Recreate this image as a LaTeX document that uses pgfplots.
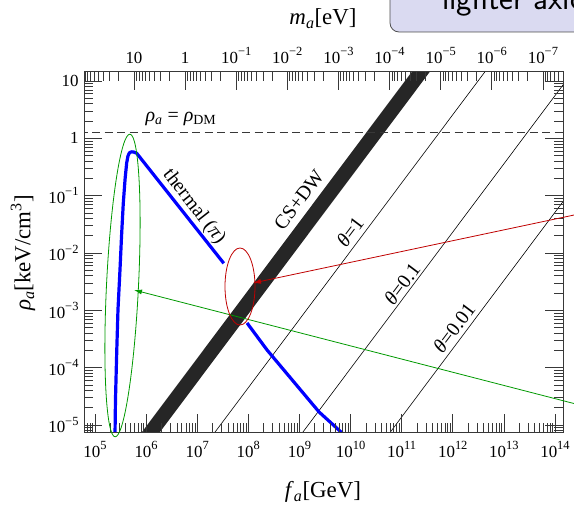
\documentclass[border=0pt]{standalone}
\usepackage{fontspec}
\setmainfont{Liberation Serif}
\usepackage{pgfplots}
\pgfplotsset{compat=1.18}
\usetikzlibrary{arrows.meta}

\definecolor{curveblue}{rgb}{0,0,1}
\definecolor{annogreen}{rgb}{0,0.6,0}
\definecolor{annored}{rgb}{0.75,0,0}
\definecolor{framegray}{gray}{0.22}
\definecolor{boxfill}{rgb}{0.855,0.855,0.945}

\newcommand{\ticksize}{\fontsize{17}{19}\selectfont}
\newcommand{\titlesize}{\fontsize{23}{27}\selectfont}
\newcommand{\notesize}{\fontsize{20}{23}\selectfont}
% exponent for tick labels
\newcommand{\ex}[1]{\raisebox{0.45em}{\fontsize{12.5}{14}\selectfont #1}}

\begin{document}
\begin{tikzpicture}
% callout box at the top edge
\begin{scope}[x=1bp,y=1bp]
\draw[rounded corners=9bp, fill=boxfill, draw=black!70, line width=0.8bp]
  (306,400) rectangle (800,520);
\node[anchor=base west, inner sep=0, font=\sffamily\fontsize{33}{38}\selectfont]
  at (358,422) {lighter axions};
\end{scope}

% main axes: f_a vs rho_a
\begin{axis}[
  at={(0,0)}, anchor=south west,
  scale only axis, width=479bp, height=360bp,
  xmode=log, ymode=log,
  xmin=6.1e4, xmax=1.435e14, ymin=7.55e-6, ymax=14.35,
  axis on top,
  axis line style={framegray, line width=1bp},
  tick style={framegray, line width=0.7bp},
  tick align=inside,
  major tick length=18bp, minor tick length=9bp,
  xtick pos=left, ytick pos=both, yticklabel pos=left,
  xtick={1e5,1e6,1e7,1e8,1e9,1e10,1e11,1e12,1e13,1e14},
  xticklabels={10\ex{5},10\ex{6},10\ex{7},10\ex{8},10\ex{9},10\ex{10},10\ex{11},10\ex{12},10\ex{13},10\ex{14}},
  minor xtick={7e4,8e4,9e4,
    2e5,3e5,4e5,5e5,6e5,7e5,8e5,9e5,
    2e6,3e6,4e6,5e6,6e6,7e6,8e6,9e6,
    2e7,3e7,4e7,5e7,6e7,7e7,8e7,9e7,
    2e8,3e8,4e8,5e8,6e8,7e8,8e8,9e8,
    2e9,3e9,4e9,5e9,6e9,7e9,8e9,9e9,
    2e10,3e10,4e10,5e10,6e10,7e10,8e10,9e10,
    2e11,3e11,4e11,5e11,6e11,7e11,8e11,9e11,
    2e12,3e12,4e12,5e12,6e12,7e12,8e12,9e12,
    2e13,3e13,4e13,5e13,6e13,7e13,8e13,9e13},
  ytick={1e-5,1e-4,1e-3,1e-2,1e-1,1,10},
  yticklabels={10\ex{−5},10\ex{−4},10\ex{−3},10\ex{−2},10\ex{−1},1,10},
  minor ytick={8e-6,9e-6,
    2e-5,3e-5,4e-5,5e-5,6e-5,7e-5,8e-5,9e-5,
    2e-4,3e-4,4e-4,5e-4,6e-4,7e-4,8e-4,9e-4,
    2e-3,3e-3,4e-3,5e-3,6e-3,7e-3,8e-3,9e-3,
    2e-2,3e-2,4e-2,5e-2,6e-2,7e-2,8e-2,9e-2,
    0.2,0.3,0.4,0.5,0.6,0.7,0.8,0.9,
    2,3,4,5,6,7,8,9},
  xticklabel style={font=\ticksize, yshift=-6bp},
  yticklabel style={font=\ticksize, xshift=-2bp},
]
% cosmic strings + domain walls band
\addplot[draw=none, fill=black!85] coordinates {
  (3.981e5,3.140e-6) (3.162e11,32.96) (7.079e11,32.81) (8.913e5,3.126e-6)} -- cycle;
% misalignment lines
\addplot[black, line width=0.6bp] coordinates {(3.162e6,7.345e-7) (3.162e13,157.4)};
\addplot[black, line width=0.6bp] coordinates {(1.585e8,6.970e-7) (1e15,86.1)};
\addplot[black, line width=0.6bp] coordinates {(1e10,8.910e-7) (1e16,12.30)};
% dark matter density
\addplot[framegray, line width=0.8bp, dash pattern=on 8bp off 4.5bp]
  coordinates {(5e4,1.25) (2e14,1.25)};
% thermal (pion) production
\addplot[curveblue, line width=3.2bp, line join=round] coordinates {
  (2.455e5,5.01e-6) (2.518e5,2.754e-5) (2.661e5,1.820e-4) (2.818e5,1.023e-3)
  (3.083e5,5.012e-3) (3.311e5,1.995e-2) (3.581e5,7.413e-2) (3.890e5,0.1995)
  (4.169e5,0.3715) (4.416e5,0.4898) (4.732e5,0.5623) (5.224e5,0.5821)
  (5.754e5,0.5754) (6.546e5,0.5495) (3.311e7,6.607e-3)};
\addplot[curveblue, line width=3.2bp, line join=round] coordinates {
  (9.441e7,6.026e-4) (2.323e8,2.037e-4) (7.499e8,5.861e-5) (2.421e9,1.687e-5)
  (6.516e9,7.551e-6) (1.072e10,5.012e-6)};
\end{axis}

% upper axis: axion mass
\begin{axis}[
  at={(0,0)}, anchor=south west,
  scale only axis, width=479bp, height=360bp,
  xmode=log, x dir=reverse,
  xmin=4.04e-8, xmax=95.1, ymin=0, ymax=1,
  axis x line*=top, hide y axis,
  axis line style={framegray, line width=1bp, -},
  tick style={framegray, line width=0.7bp},
  tick align=inside,
  major tick length=18bp, minor tick length=9bp,
  xtick={1e-7,1e-6,1e-5,1e-4,1e-3,1e-2,1e-1,1,10},
  xticklabels={10\ex{−7},10\ex{−6},10\ex{−5},10\ex{−4},10\ex{−3},10\ex{−2},10\ex{−1},1,10},
  minor xtick={5e-8,6e-8,7e-8,8e-8,9e-8,
    2e-7,3e-7,4e-7,5e-7,6e-7,7e-7,8e-7,9e-7,
    2e-6,3e-6,4e-6,5e-6,6e-6,7e-6,8e-6,9e-6,
    2e-5,3e-5,4e-5,5e-5,6e-5,7e-5,8e-5,9e-5,
    2e-4,3e-4,4e-4,5e-4,6e-4,7e-4,8e-4,9e-4,
    2e-3,3e-3,4e-3,5e-3,6e-3,7e-3,8e-3,9e-3,
    2e-2,3e-2,4e-2,5e-2,6e-2,7e-2,8e-2,9e-2,
    0.2,0.3,0.4,0.5,0.6,0.7,0.8,0.9,
    2,3,4,5,6,7,8,9,20,30,40,50,60,70,80,90},
  xticklabel style={font=\ticksize, yshift=5bp},
]
\addplot[draw=none] coordinates {(1,0.5)};
\end{axis}

\begin{scope}[x=1bp,y=1bp]
% axis titles
\node[font=\titlesize] at (239,-60) {\textit{f}\textsubscript{\textit{a}}[GeV]};
\node[font=\titlesize, rotate=90] at (-61,179) {\textit{ρ}\textsubscript{\textit{a}}[keV/cm\textsuperscript{3}]};
\node[font=\titlesize] at (239,413) {\textit{m}\textsubscript{\textit{a}}[eV]};
% curve labels
\node[font=\notesize] at (97,313) {\textit{ρ}\textsubscript{\textit{a}} = \textit{ρ}\textsubscript{DM}};
\node[font=\notesize, rotate=-52] at (110,225) {thermal (\textit{π})};
\node[font=\notesize, rotate=53] at (215,232) {CS+DW};
\node[font=\notesize, rotate=53] at (266,200) {\textit{θ}=1};
\node[font=\notesize, rotate=53] at (318,148) {\textit{θ}=0.1};
\node[font=\notesize, rotate=53] at (370,104) {\textit{θ}=0.01};
% highlighted regions and pointers
\draw[annogreen, line width=0.8bp, rotate around={-2.8:(38.5,146.5)}]
  (38.5,146.5) ellipse [x radius=16, y radius=151.5];
\draw[annogreen, line width=0.8bp, -{Latex[length=8bp,width=5bp]}] (536,16.6) -- (50,142);
\draw[annored, line width=0.8bp] (156,145.5) ellipse [x radius=15, y radius=38.5];
\draw[annored, line width=0.8bp, -{Latex[length=8bp,width=5bp]}] (536,226.7) -- (169,149);
% page extent
\pgfresetboundingbox
\path[use as bounding box] (-84,-74) rectangle (490,432);
\end{scope}
\end{tikzpicture}
\end{document}
